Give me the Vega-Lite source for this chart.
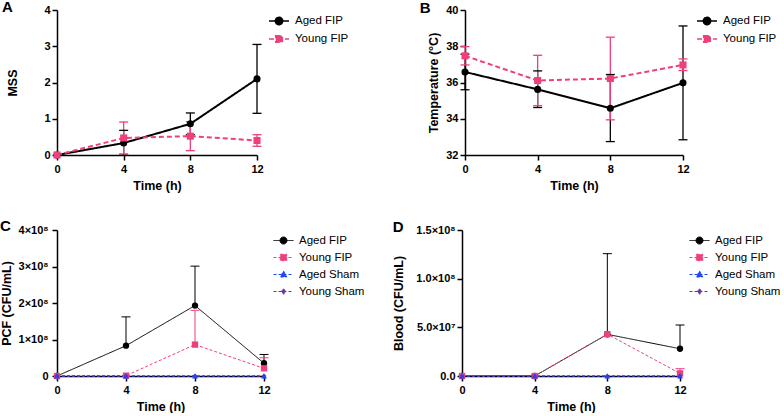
{
 "$schema": "https://vega.github.io/schema/vega-lite/v6.json",
 "padding": 0,
 "background": "white",
 "datasets": {
  "a": [
   {"time":0,"group":"Aged FIP","mean":0,"lo":null,"hi":null},
   {"time":4,"group":"Aged FIP","mean":0.33,"lo":0,"hi":0.68},
   {"time":8,"group":"Aged FIP","mean":0.86,"lo":0.56,"hi":1.16},
   {"time":12,"group":"Aged FIP","mean":2.1,"lo":1.15,"hi":3.05},
   {"time":0,"group":"Young FIP","mean":0,"lo":null,"hi":null},
   {"time":4,"group":"Young FIP","mean":0.47,"lo":0.03,"hi":0.91},
   {"time":8,"group":"Young FIP","mean":0.52,"lo":0.12,"hi":0.92},
   {"time":12,"group":"Young FIP","mean":0.4,"lo":0.24,"hi":0.56}
  ],
  "b": [
   {"time":0,"group":"Aged FIP","mean":36.58,"lo":35.6,"hi":37.56},
   {"time":4,"group":"Aged FIP","mean":35.62,"lo":34.62,"hi":36.64},
   {"time":8,"group":"Aged FIP","mean":34.58,"lo":32.74,"hi":36.44},
   {"time":12,"group":"Aged FIP","mean":35.98,"lo":32.84,"hi":39.12},
   {"time":0,"group":"Young FIP","mean":37.47,"lo":36.97,"hi":37.98},
   {"time":4,"group":"Young FIP","mean":36.11,"lo":34.72,"hi":37.5},
   {"time":8,"group":"Young FIP","mean":36.22,"lo":33.94,"hi":38.5},
   {"time":12,"group":"Young FIP","mean":36.97,"lo":36.66,"hi":37.3}
  ],
  "c": [
   {"time":0,"group":"Aged FIP","mean":0,"hi":null},
   {"time":4,"group":"Aged FIP","mean":83000000,"hi":162000000},
   {"time":8,"group":"Aged FIP","mean":193000000,"hi":301000000},
   {"time":12,"group":"Aged FIP","mean":35000000,"hi":59000000},
   {"time":0,"group":"Young FIP","mean":0,"hi":null},
   {"time":4,"group":"Young FIP","mean":1000000,"hi":null},
   {"time":8,"group":"Young FIP","mean":86000000,"hi":180000000},
   {"time":12,"group":"Young FIP","mean":21000000,"hi":50000000},
   {"time":0,"group":"Young Sham","mean":0,"hi":null},
   {"time":4,"group":"Young Sham","mean":0,"hi":null},
   {"time":8,"group":"Young Sham","mean":0,"hi":null},
   {"time":12,"group":"Young Sham","mean":0,"hi":null},
   {"time":0,"group":"Aged Sham","mean":0,"hi":null},
   {"time":4,"group":"Aged Sham","mean":0,"hi":null},
   {"time":8,"group":"Aged Sham","mean":0,"hi":null},
   {"time":12,"group":"Aged Sham","mean":0,"hi":null}
  ],
  "d": [
   {"time":0,"group":"Aged FIP","mean":0,"hi":null},
   {"time":4,"group":"Aged FIP","mean":0,"hi":null},
   {"time":8,"group":"Aged FIP","mean":42800000,"hi":125700000},
   {"time":12,"group":"Aged FIP","mean":28000000,"hi":52400000},
   {"time":0,"group":"Young FIP","mean":0,"hi":null},
   {"time":4,"group":"Young FIP","mean":0,"hi":null},
   {"time":8,"group":"Young FIP","mean":43000000,"hi":null},
   {"time":12,"group":"Young FIP","mean":2700000,"hi":7500000},
   {"time":0,"group":"Young Sham","mean":0,"hi":null},
   {"time":4,"group":"Young Sham","mean":0,"hi":null},
   {"time":8,"group":"Young Sham","mean":0,"hi":null},
   {"time":12,"group":"Young Sham","mean":0,"hi":null},
   {"time":0,"group":"Aged Sham","mean":0,"hi":null},
   {"time":4,"group":"Aged Sham","mean":0,"hi":null},
   {"time":8,"group":"Aged Sham","mean":0,"hi":null},
   {"time":12,"group":"Aged Sham","mean":0,"hi":null}
  ]
 },
 "config": {
  "view": {"stroke": null},
  "font": "Liberation Sans",
  "axis": {"grid": false, "domainColor": "#000", "domainWidth": 1.5, "tickColor": "#000", "tickWidth": 1.5, "tickSize": 5, "labelFont": "Liberation Sans", "labelFontWeight": "bold", "labelFontSize": 11, "labelColor": "#000", "labelPadding": 2, "titleFont": "Liberation Sans", "titleFontWeight": "bold", "titleFontSize": 12.5, "titleColor": "#000"},
  "axisX": {"labelPadding": 3, "titlePadding": 5, "labelAngle": 0, "labelFlush": false},
  "legend": {"padding": 0, "labelFont": "Liberation Sans", "labelFontSize": 11.5, "labelColor": "#000", "labelOffset": 5, "symbolSize": 400, "orient": "right", "offset": 7, "symbolOpacity": 1},
  "title": {"font": "Liberation Sans", "fontSize": 15, "fontWeight": "bold", "color": "#000", "anchor": "start", "frame": "bounds"}
 },
 "spacing": 27,
 "resolve": {"scale": {"color": "independent", "shape": "independent", "strokeDash": "independent"}, "legend": {"color": "independent", "shape": "independent", "strokeDash": "independent"}},
 "vconcat": [
  {
   "spacing": 70,
   "resolve": {"scale": {"color": "independent", "shape": "independent", "strokeDash": "independent"}, "legend": {"color": "independent", "shape": "independent", "strokeDash": "independent"}},
   "hconcat": [
    {
     "width": 200, "height": 145,
     "title": {"text": "A", "offset": -11, "dx": -5},
     "data": {"name": "a"},
     "encoding": {
      "x": {"field": "time", "type": "quantitative", "scale": {"domain": [0, 12], "nice": false, "zero": false}, "axis": {"values": [0, 4, 8, 12], "title": "Time (h)"}},
      "color": {"field": "group", "type": "nominal", "scale": {"domain": ["Aged FIP", "Young FIP"], "range": ["#000000", "#ee3f7e"]},
        "legend": {"title": null, "rowPadding": 0, "symbolStrokeWidth": 1.5}}
     },
     "layer": [
      {"transform": [{"filter": "isValid(datum.hi)"}], "mark": {"type": "rule", "strokeWidth": 1.3}, "encoding": {"y": {"field": "lo", "type": "quantitative", "scale": {"domain": [0, 4], "nice": false}, "axis": {"values": [0, 1, 2, 3, 4], "title": "MSS", "titlePadding": 24}}, "y2": {"field": "hi"}}},
      {"transform": [{"filter": "isValid(datum.hi)"}], "mark": {"type": "tick", "orient": "horizontal", "size": 9, "thickness": 1.3, "opacity": 1}, "encoding": {"y": {"field": "hi", "type": "quantitative", "axis": {"values": [0, 1, 2, 3, 4], "title": "MSS", "titlePadding": 24}}}},
      {"transform": [{"filter": "isValid(datum.lo)"}], "mark": {"type": "tick", "orient": "horizontal", "size": 9, "thickness": 1.3, "opacity": 1}, "encoding": {"y": {"field": "lo", "type": "quantitative", "axis": {"values": [0, 1, 2, 3, 4], "title": "MSS", "titlePadding": 24}}}},
      {"mark": {"type": "line", "strokeWidth": 2}, "encoding": {"y": {"field": "mean", "type": "quantitative", "axis": {"values": [0, 1, 2, 3, 4], "title": "MSS", "titlePadding": 24}}, "strokeDash": {"field": "group", "type": "nominal", "scale": {"domain": ["Aged FIP", "Young FIP"], "range": [[1, 0], [5, 3]]}, "legend": {"title": null}}}},
      {"transform": [{"filter": "datum.group == 'Aged FIP'"}], "mark": {"type": "point", "shape": "circle", "filled": true, "size": 50, "opacity": 1}, "encoding": {"y": {"field": "mean", "type": "quantitative", "axis": {"values": [0, 1, 2, 3, 4], "title": "MSS", "titlePadding": 24}}}},
      {"transform": [{"filter": "datum.group == 'Young FIP'"}], "mark": {"type": "point", "shape": "square", "filled": true, "size": 50, "opacity": 1}, "encoding": {"y": {"field": "mean", "type": "quantitative", "axis": {"values": [0, 1, 2, 3, 4], "title": "MSS", "titlePadding": 24}}}},
      {"transform": [{"filter": "false"}], "mark": {"type": "point", "filled": true, "opacity": 1}, "encoding": {"y": {"field": "mean", "type": "quantitative", "axis": {"values": [0, 1, 2, 3, 4], "title": "MSS", "titlePadding": 24}}, "shape": {"field": "group", "type": "nominal", "scale": {"domain": ["Aged FIP", "Young FIP"], "range": ["M-1,0H1M-0.37,0A0.37,0.37,0,1,1,0.37,0A0.37,0.37,0,1,1,-0.37,0Z", "M-1,0H1M-0.33,-0.33H0.33V0.33H-0.33Z"]}, "legend": {"title": null}}}}
     ]
    },
    {
     "width": 218, "height": 145,
     "title": {"text": "B", "offset": -12, "dx": -8},
     "data": {"name": "b"},
     "encoding": {
      "x": {"field": "time", "type": "quantitative", "scale": {"domain": [0, 12], "nice": false, "zero": false}, "axis": {"values": [0, 4, 8, 12], "title": "Time (h)"}},
      "color": {"field": "group", "type": "nominal", "scale": {"domain": ["Aged FIP", "Young FIP"], "range": ["#000000", "#ee3f7e"]},
        "legend": {"title": null, "rowPadding": 0, "offset": 9, "symbolStrokeWidth": 1.5}}
     },
     "layer": [
      {"mark": {"type": "rule", "strokeWidth": 1.3}, "encoding": {"y": {"field": "lo", "type": "quantitative", "scale": {"domain": [32, 40], "nice": false, "zero": false}, "axis": {"values": [32, 34, 36, 38, 40], "title": "Temperature (°C)", "titlePadding": 5}}, "y2": {"field": "hi"}}},
      {"mark": {"type": "tick", "orient": "horizontal", "size": 9, "thickness": 1.3, "opacity": 1}, "encoding": {"y": {"field": "hi", "type": "quantitative", "axis": {"values": [32, 34, 36, 38, 40], "title": "Temperature (°C)", "titlePadding": 5}}}},
      {"mark": {"type": "tick", "orient": "horizontal", "size": 9, "thickness": 1.3, "opacity": 1}, "encoding": {"y": {"field": "lo", "type": "quantitative", "axis": {"values": [32, 34, 36, 38, 40], "title": "Temperature (°C)", "titlePadding": 5}}}},
      {"mark": {"type": "line", "strokeWidth": 2}, "encoding": {"y": {"field": "mean", "type": "quantitative", "axis": {"values": [32, 34, 36, 38, 40], "title": "Temperature (°C)", "titlePadding": 5}}, "strokeDash": {"field": "group", "type": "nominal", "scale": {"domain": ["Aged FIP", "Young FIP"], "range": [[1, 0], [5, 3]]}, "legend": {"title": null}}}},
      {"transform": [{"filter": "datum.group == 'Aged FIP'"}], "mark": {"type": "point", "shape": "circle", "filled": true, "size": 50, "opacity": 1}, "encoding": {"y": {"field": "mean", "type": "quantitative", "axis": {"values": [32, 34, 36, 38, 40], "title": "Temperature (°C)", "titlePadding": 5}}}},
      {"transform": [{"filter": "datum.group == 'Young FIP'"}], "mark": {"type": "point", "shape": "square", "filled": true, "size": 50, "opacity": 1}, "encoding": {"y": {"field": "mean", "type": "quantitative", "axis": {"values": [32, 34, 36, 38, 40], "title": "Temperature (°C)", "titlePadding": 5}}}},
      {"transform": [{"filter": "false"}], "mark": {"type": "point", "filled": true, "opacity": 1}, "encoding": {"y": {"field": "mean", "type": "quantitative", "axis": {"values": [32, 34, 36, 38, 40], "title": "Temperature (°C)", "titlePadding": 5}}, "shape": {"field": "group", "type": "nominal", "scale": {"domain": ["Aged FIP", "Young FIP"], "range": ["M-1,0H1M-0.37,0A0.37,0.37,0,1,1,0.37,0A0.37,0.37,0,1,1,-0.37,0Z", "M-1,0H1M-0.33,-0.33H0.33V0.33H-0.33Z"]}, "legend": {"title": null}}}}
     ]
    }
   ]
  },
  {
   "spacing": 27,
   "resolve": {"scale": {"color": "independent", "shape": "independent", "strokeDash": "independent"}, "legend": {"color": "independent", "shape": "independent", "strokeDash": "independent"}},
   "hconcat": [
    {
     "width": 207, "height": 146,
     "title": {"text": "C", "offset": -10},
     "data": {"name": "c"},
     "encoding": {
      "x": {"field": "time", "type": "quantitative", "scale": {"domain": [0, 12], "nice": false, "zero": false}, "axis": {"values": [0, 4, 8, 12], "title": "Time (h)"}},
      "color": {"field": "group", "type": "nominal", "scale": {"domain": ["Aged FIP", "Young FIP", "Aged Sham", "Young Sham"], "range": ["#000000", "#ee3f7e", "#2146f5", "#6a35a8"]},
        "legend": {"title": null, "rowPadding": 1, "symbolStrokeWidth": 1}}
     },
     "layer": [
      {"transform": [{"filter": "isValid(datum.hi)"}], "mark": {"type": "rule", "strokeWidth": 1}, "encoding": {"y": {"field": "mean", "type": "quantitative", "scale": {"domain": [0, 400000000], "nice": false}, "axis": {"values": [0, 100000000, 200000000, 300000000, 400000000], "title": "PCF (CFU/mL)", "titlePadding": 5, "labelPadding": 4, "labelExpr": "datum.value == 0 ? '0' : format(datum.value / 1e8, 'd') + '×10⁸'"}}, "y2": {"field": "hi"}}},
      {"transform": [{"filter": "isValid(datum.hi)"}], "mark": {"type": "tick", "orient": "horizontal", "size": 9, "thickness": 1, "opacity": 1}, "encoding": {"y": {"field": "hi", "type": "quantitative", "axis": {"values": [0, 100000000, 200000000, 300000000, 400000000], "title": "PCF (CFU/mL)", "titlePadding": 5, "labelPadding": 4, "labelExpr": "datum.value == 0 ? '0' : format(datum.value / 1e8, 'd') + '×10⁸'"}}}},
      {"mark": {"type": "line", "strokeWidth": 1}, "encoding": {"y": {"field": "mean", "type": "quantitative", "axis": {"values": [0, 100000000, 200000000, 300000000, 400000000], "title": "PCF (CFU/mL)", "titlePadding": 5, "labelPadding": 4, "labelExpr": "datum.value == 0 ? '0' : format(datum.value / 1e8, 'd') + '×10⁸'"}}, "strokeDash": {"field": "group", "type": "nominal", "scale": {"domain": ["Aged FIP", "Young FIP", "Aged Sham", "Young Sham"], "range": [[1, 0], [3, 2], [3, 2], [3, 2]]}, "legend": {"title": null}}}},
      {"transform": [{"filter": "datum.group == 'Aged FIP'"}], "mark": {"type": "point", "shape": "circle", "filled": true, "size": 40, "opacity": 1}, "encoding": {"y": {"field": "mean", "type": "quantitative", "axis": {"values": [0, 100000000, 200000000, 300000000, 400000000], "title": "PCF (CFU/mL)", "titlePadding": 5, "labelPadding": 4, "labelExpr": "datum.value == 0 ? '0' : format(datum.value / 1e8, 'd') + '×10⁸'"}}}},
      {"transform": [{"filter": "datum.group == 'Young FIP'"}], "mark": {"type": "point", "shape": "square", "filled": true, "size": 40, "opacity": 1}, "encoding": {"y": {"field": "mean", "type": "quantitative", "axis": {"values": [0, 100000000, 200000000, 300000000, 400000000], "title": "PCF (CFU/mL)", "titlePadding": 5, "labelPadding": 4, "labelExpr": "datum.value == 0 ? '0' : format(datum.value / 1e8, 'd') + '×10⁸'"}}}},
      {"transform": [{"filter": "datum.group == 'Young Sham'"}], "mark": {"type": "point", "shape": "diamond", "filled": true, "size": 25, "opacity": 1}, "encoding": {"y": {"field": "mean", "type": "quantitative", "axis": {"values": [0, 100000000, 200000000, 300000000, 400000000], "title": "PCF (CFU/mL)", "titlePadding": 5, "labelPadding": 4, "labelExpr": "datum.value == 0 ? '0' : format(datum.value / 1e8, 'd') + '×10⁸'"}}}},
      {"transform": [{"filter": "datum.group == 'Aged Sham'"}], "mark": {"type": "point", "shape": "triangle-up", "filled": true, "size": 35, "opacity": 1}, "encoding": {"y": {"field": "mean", "type": "quantitative", "axis": {"values": [0, 100000000, 200000000, 300000000, 400000000], "title": "PCF (CFU/mL)", "titlePadding": 5, "labelPadding": 4, "labelExpr": "datum.value == 0 ? '0' : format(datum.value / 1e8, 'd') + '×10⁸'"}}}},
      {"transform": [{"filter": "false"}], "mark": {"type": "point", "filled": true, "opacity": 1}, "encoding": {"y": {"field": "mean", "type": "quantitative", "axis": {"values": [0, 100000000, 200000000, 300000000, 400000000], "title": "PCF (CFU/mL)", "titlePadding": 5, "labelPadding": 4, "labelExpr": "datum.value == 0 ? '0' : format(datum.value / 1e8, 'd') + '×10⁸'"}}, "shape": {"field": "group", "type": "nominal", "scale": {"domain": ["Aged FIP", "Young FIP", "Aged Sham", "Young Sham"], "range": ["M-1,0H1M-0.35,0A0.35,0.35,0,1,1,0.35,0A0.35,0.35,0,1,1,-0.35,0Z", "M-1,0H1M-0.32,-0.32H0.32V0.32H-0.32Z", "M-1,0H1M0,-0.35L0.32,0.25H-0.32Z", "M-1,0H1M0,-0.28L0.22,0L0,0.28L-0.22,0Z"]}, "legend": {"title": null}}}}
     ]
    },
    {
     "width": 218, "height": 146,
     "title": {"text": "D", "offset": -11},
     "data": {"name": "d"},
     "encoding": {
      "x": {"field": "time", "type": "quantitative", "scale": {"domain": [0, 12], "nice": false, "zero": false}, "axis": {"values": [0, 4, 8, 12], "title": "Time (h)"}},
      "color": {"field": "group", "type": "nominal", "scale": {"domain": ["Aged FIP", "Young FIP", "Aged Sham", "Young Sham"], "range": ["#000000", "#ee3f7e", "#2146f5", "#6a35a8"]},
        "legend": {"title": null, "rowPadding": 1, "symbolStrokeWidth": 1}}
     },
     "layer": [
      {"transform": [{"filter": "isValid(datum.hi)"}], "mark": {"type": "rule", "strokeWidth": 1}, "encoding": {"y": {"field": "mean", "type": "quantitative", "scale": {"domain": [0, 150000000], "nice": false}, "axis": {"values": [0, 50000000, 100000000, 150000000], "title": "Blood (CFU/mL)", "titlePadding": 10, "labelExpr": "datum.value == 0 ? '0.0' : (datum.value >= 1e8 ? format(datum.value / 1e8, '.1f') + '×10⁸' : format(datum.value / 1e7, '.1f') + '×10⁷')"}}, "y2": {"field": "hi"}}},
      {"transform": [{"filter": "isValid(datum.hi)"}], "mark": {"type": "tick", "orient": "horizontal", "size": 9, "thickness": 1, "opacity": 1}, "encoding": {"y": {"field": "hi", "type": "quantitative", "axis": {"values": [0, 50000000, 100000000, 150000000], "title": "Blood (CFU/mL)", "titlePadding": 10, "labelExpr": "datum.value == 0 ? '0.0' : (datum.value >= 1e8 ? format(datum.value / 1e8, '.1f') + '×10⁸' : format(datum.value / 1e7, '.1f') + '×10⁷')"}}}},
      {"mark": {"type": "line", "strokeWidth": 1}, "encoding": {"y": {"field": "mean", "type": "quantitative", "axis": {"values": [0, 50000000, 100000000, 150000000], "title": "Blood (CFU/mL)", "titlePadding": 10, "labelExpr": "datum.value == 0 ? '0.0' : (datum.value >= 1e8 ? format(datum.value / 1e8, '.1f') + '×10⁸' : format(datum.value / 1e7, '.1f') + '×10⁷')"}}, "strokeDash": {"field": "group", "type": "nominal", "scale": {"domain": ["Aged FIP", "Young FIP", "Aged Sham", "Young Sham"], "range": [[1, 0], [3, 2], [3, 2], [3, 2]]}, "legend": {"title": null}}}},
      {"transform": [{"filter": "datum.group == 'Aged FIP'"}], "mark": {"type": "point", "shape": "circle", "filled": true, "size": 40, "opacity": 1}, "encoding": {"y": {"field": "mean", "type": "quantitative", "axis": {"values": [0, 50000000, 100000000, 150000000], "title": "Blood (CFU/mL)", "titlePadding": 10, "labelExpr": "datum.value == 0 ? '0.0' : (datum.value >= 1e8 ? format(datum.value / 1e8, '.1f') + '×10⁸' : format(datum.value / 1e7, '.1f') + '×10⁷')"}}}},
      {"transform": [{"filter": "datum.group == 'Young FIP'"}], "mark": {"type": "point", "shape": "square", "filled": true, "size": 40, "opacity": 1}, "encoding": {"y": {"field": "mean", "type": "quantitative", "axis": {"values": [0, 50000000, 100000000, 150000000], "title": "Blood (CFU/mL)", "titlePadding": 10, "labelExpr": "datum.value == 0 ? '0.0' : (datum.value >= 1e8 ? format(datum.value / 1e8, '.1f') + '×10⁸' : format(datum.value / 1e7, '.1f') + '×10⁷')"}}}},
      {"transform": [{"filter": "datum.group == 'Young Sham'"}], "mark": {"type": "point", "shape": "diamond", "filled": true, "size": 25, "opacity": 1}, "encoding": {"y": {"field": "mean", "type": "quantitative", "axis": {"values": [0, 50000000, 100000000, 150000000], "title": "Blood (CFU/mL)", "titlePadding": 10, "labelExpr": "datum.value == 0 ? '0.0' : (datum.value >= 1e8 ? format(datum.value / 1e8, '.1f') + '×10⁸' : format(datum.value / 1e7, '.1f') + '×10⁷')"}}}},
      {"transform": [{"filter": "datum.group == 'Aged Sham'"}], "mark": {"type": "point", "shape": "triangle-up", "filled": true, "size": 35, "opacity": 1}, "encoding": {"y": {"field": "mean", "type": "quantitative", "axis": {"values": [0, 50000000, 100000000, 150000000], "title": "Blood (CFU/mL)", "titlePadding": 10, "labelExpr": "datum.value == 0 ? '0.0' : (datum.value >= 1e8 ? format(datum.value / 1e8, '.1f') + '×10⁸' : format(datum.value / 1e7, '.1f') + '×10⁷')"}}}},
      {"transform": [{"filter": "false"}], "mark": {"type": "point", "filled": true, "opacity": 1}, "encoding": {"y": {"field": "mean", "type": "quantitative", "axis": {"values": [0, 50000000, 100000000, 150000000], "title": "Blood (CFU/mL)", "titlePadding": 10, "labelExpr": "datum.value == 0 ? '0.0' : (datum.value >= 1e8 ? format(datum.value / 1e8, '.1f') + '×10⁸' : format(datum.value / 1e7, '.1f') + '×10⁷')"}}, "shape": {"field": "group", "type": "nominal", "scale": {"domain": ["Aged FIP", "Young FIP", "Aged Sham", "Young Sham"], "range": ["M-1,0H1M-0.35,0A0.35,0.35,0,1,1,0.35,0A0.35,0.35,0,1,1,-0.35,0Z", "M-1,0H1M-0.32,-0.32H0.32V0.32H-0.32Z", "M-1,0H1M0,-0.35L0.32,0.25H-0.32Z", "M-1,0H1M0,-0.28L0.22,0L0,0.28L-0.22,0Z"]}, "legend": {"title": null}}}}
     ]
    }
   ]
  }
 ]
}
